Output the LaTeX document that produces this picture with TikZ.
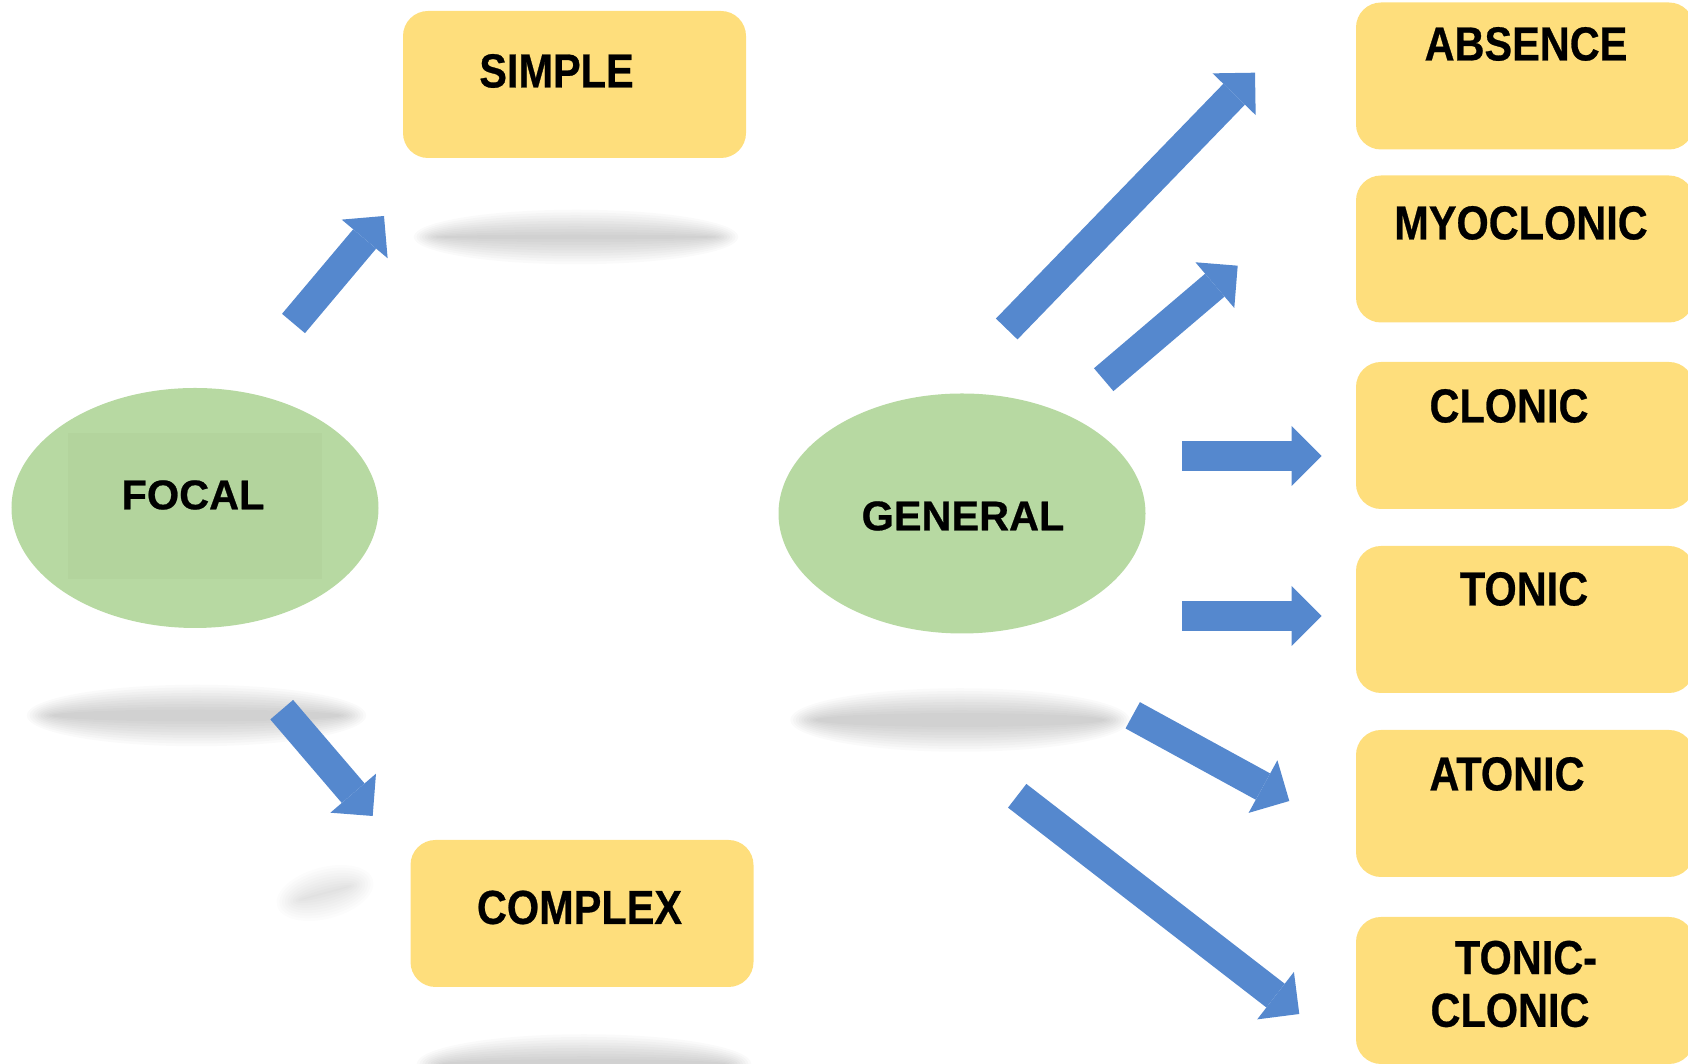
\documentclass[tikz,border=0pt]{standalone}
\usepackage{fontspec}
\setmainfont{Liberation Sans}
\usetikzlibrary{arrows.meta,shapes.geometric}
\definecolor{leaf}{HTML}{B7D9A2}
\definecolor{leafdark}{HTML}{B3D49D}
\definecolor{sand}{HTML}{FEDE7C}
\definecolor{sky}{HTML}{5588CE}
\newcommand{\tall}[1]{\scalebox{1}[1.15]{#1}}
% soft shadow: center, inner half axes, opacity step
\newcommand{\haze}[4]{\foreach \k in {0,...,9}
  {\fill[black, opacity=#4] #1 ellipse ({#2+0.055*\k} and {#3+0.055*\k});}}

\begin{document}
\begin{tikzpicture}[
  kind/.style={fill=sand, rounded corners=0.5cm, minimum width=6.86cm, minimum height=2.94cm, inner sep=0},
  blob/.style={ellipse, fill=leaf, minimum width=7.34cm, minimum height=4.8cm, inner sep=0},
  tag/.style={inner sep=0, font=\fontsize{23.6}{30}\selectfont\bfseries\addfontfeatures{FakeBold=0.6}, align=center},
  flow/.style={sky, line width=0.6cm, -{Triangle[width=1.2cm,length=0.6cm,line width=0pt]}}
]
\useasboundingbox (0,0) rectangle (33.76,21.28);
\clip (0,0) rectangle (33.76,21.28);

% shadows
\haze{(11.52,16.54)}{2.75}{0.05}{0.02}
\haze{(3.93,6.97)}{2.9}{0.12}{0.02}
\begin{scope}[rotate around={15:(6.5,3.42)}]
\haze{(6.5,3.42)}{0.5}{0.02}{0.01}
\end{scope}
\haze{(11.68,0.0)}{2.85}{0.1}{0.02}
\haze{(19.2,6.88)}{2.9}{0.14}{0.02}

% focal side
\node[blob] (focal) at (3.90,11.12) {};
\fill[leafdark] (1.36,9.70) rectangle (6.44,12.62);
\node[tag] (focal-t) at (3.86,11.38) {FOCAL};
\node[kind] (simple) at (11.49,19.59) {};
\node[tag] (simple-t) at (11.13,19.86) {\tall{SIMPLE}};
\node[kind] (complex) at (11.64,3.01) {};
\node[tag] (complex-t) at (11.59,3.13) {\tall{COMPLEX}};

% general side
\node[blob] (general) at (19.24,11.01) {};
\node[tag] (general-t) at (19.26,10.96) {GENERAL};
\node[kind, minimum width=6.76cm] (absence) at (30.5,19.76) {};
\node[tag] (absence-t) at (30.52,20.40) {\tall{ABSENCE}};
\node[kind, minimum width=6.76cm] (myoclonic) at (30.5,16.30) {};
\node[tag] (myoclonic-t) at (30.42,16.82) {\tall{MYOCLONIC}};
\node[kind, minimum width=6.76cm] (clonic) at (30.5,12.57) {};
\node[tag] (clonic-t) at (30.18,13.16) {\tall{CLONIC}};
\node[kind, minimum width=6.76cm] (tonic) at (30.5,8.89) {};
\node[tag] (tonic-t) at (30.48,9.50) {\tall{TONIC}};
\node[kind, minimum width=6.76cm] (atonic) at (30.5,5.21) {};
\node[tag] (atonic-t) at (30.14,5.80) {\tall{ATONIC}};
\node[kind, minimum width=6.76cm] (toniclonic) at (30.5,1.47) {};
\node[tag] (toniclonic-t) at (30.20,1.60) {\hspace*{0.64cm}\tall{TONIC-}\\\tall{CLONIC}};

% arrow ends
\coordinate (fs0) at (5.87,14.81);   \coordinate (fs1) at (7.68,16.96);
\coordinate (fc0) at (5.634,7.086);  \coordinate (fc1) at (7.454,4.96);
\coordinate (ga0) at (20.134,14.70); \coordinate (ga1) at (25.10,19.826);
\coordinate (gm0) at (22.074,13.686);\coordinate (gm1) at (24.754,15.966);
\coordinate (gc0) at (23.64,12.16);  \coordinate (gc1) at (26.432,12.16);
\coordinate (gt0) at (23.64,8.96);   \coordinate (gt1) at (26.432,8.96);
\coordinate (gn0) at (22.654,6.974); \coordinate (gn1) at (25.786,5.26);
\coordinate (gx0) at (20.344,5.364); \coordinate (gx1) at (25.986,1.0);

\draw[flow] (fs0) -- (fs1);
\draw[flow] (fc0) -- (fc1);
\draw[flow] (ga0) -- (ga1);
\draw[flow] (gm0) -- (gm1);
\draw[flow] (gc0) -- (gc1);
\draw[flow] (gt0) -- (gt1);
\draw[flow] (gn0) -- (gn1);
\draw[flow] (gx0) -- (gx1);
\end{tikzpicture}
\end{document}
